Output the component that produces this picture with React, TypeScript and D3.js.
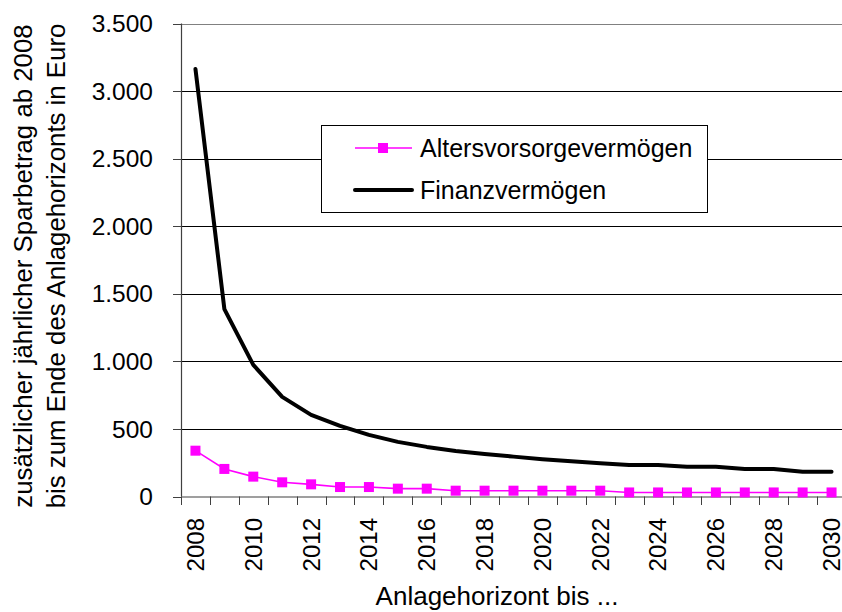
import React from "react";
import { scaleBand, scaleLinear, line } from "d3";

const years = ["2008", "2009", "2010", "2011", "2012", "2013", "2014", "2015", "2016", "2017", "2018", "2019",
  "2020", "2021", "2022", "2023", "2024", "2025", "2026", "2027", "2028", "2029", "2030"];
const altersvorsorge = [339, 204, 147, 105, 90, 70, 70, 58, 58, 43, 43, 43, 43, 43, 43, 30, 30, 30, 30, 30, 30, 30, 30];
const finanz = [3164, 1387, 974, 737, 604, 522, 456, 404, 367, 337, 315, 295, 276, 261, 246, 233, 233, 221, 221, 204, 204, 184, 184];
const yTicks = [0, 500, 1000, 1500, 2000, 2500, 3000, 3500];
const yTickLabels = ["0", "500", "1.000", "1.500", "2.000", "2.500", "3.000", "3.500"];
const xLabelYears = ["2008", "2010", "2012", "2014", "2016", "2018", "2020", "2022", "2024", "2026", "2028", "2030"];
const seriesNames = ["Altersvorsorgevermögen", "Finanzvermögen"];
const yTitle = ["zusätzlicher jährlicher Sparbetrag ab 2008", "bis zum Ende des Anlagehorizonts in Euro"];
const xTitle = "Anlagehorizont bis ...";

const FONT = "'Liberation Sans', Arial, sans-serif";
const PINK = "#ff00ff";

export default function App() {
  const left = 181;
  const right = 846;
  const top = 23.5;
  const bottom = 496.5;

  const x = scaleBand<string>().domain(years).range([left, right]).paddingInner(0).paddingOuter(0);
  const y = scaleLinear().domain([0, 3500]).range([bottom, top]);
  const cx = (d: string) => (x(d) as number) + x.bandwidth() / 2;
  const px = (v: number) => Math.round(v) + 0.5;

  const path = line<number>()
    .x((_, i) => cx(years[i]))
    .y(d => y(d));

  const legend = { x: 321, y: 125, w: 386, h: 87 };

  return (
    <svg width={842} height={612} style={{ position: "absolute", left: 0, top: 0 }} fontFamily={FONT}>
      <rect width={842} height={612} fill="#fff" />

      {/* gridlines */}
      {yTicks.filter(t => t > 0 && t < 3500).map(t => (
        <line key={t} x1={left} x2={right} y1={px(y(t))} y2={px(y(t))} stroke="#000" strokeWidth={1} />
      ))}
      <line x1={left} x2={right} y1={px(y(3500))} y2={px(y(3500))} stroke="#808080" strokeWidth={1} />

      {/* y axis */}
      <line x1={left + 0.5} x2={left + 0.5} y1={top} y2={bottom} stroke="#404040" strokeWidth={1.2} />
      {yTicks.map((t, i) => (
        <g key={t}>
          <line x1={173} x2={left} y1={px(y(t))} y2={px(y(t))} stroke="#404040" strokeWidth={1} />
          <text x={153} y={y(t)} dy="0.35em" textAnchor="end" fontSize={24.5} fill="#000">{yTickLabels[i]}</text>
        </g>
      ))}

      {/* x axis */}
      <line x1={left} x2={right} y1={bottom + 0.5} y2={bottom + 0.5} stroke="#404040" strokeWidth={1.2} />
      {years.map(d => (
        <line key={d} x1={px(x(d) as number)} x2={px(x(d) as number)} y1={bottom} y2={bottom + 8.5} stroke="#404040" strokeWidth={1} />
      ))}
      {xLabelYears.map(d => (
        <text key={d} transform={`translate(${cx(d)},518) rotate(-90)`} dy="0.35em" textAnchor="end" fontSize={24} fill="#000">{d}</text>
      ))}

      {/* series */}
      <path d={path(finanz) as string} fill="none" stroke="#000" strokeWidth={4} strokeLinejoin="round" strokeLinecap="round" />
      <path d={path(altersvorsorge) as string} fill="none" stroke={PINK} strokeWidth={1.6} />
      {altersvorsorge.map((v, i) => (
        <rect key={i} x={cx(years[i]) - 5} y={y(v) - 5} width={10} height={10} fill={PINK} />
      ))}

      {/* legend */}
      <rect x={legend.x + 0.5} y={legend.y + 0.5} width={legend.w} height={legend.h} fill="#fff" stroke="#000" strokeWidth={1} />
      <line x1={355} x2={412} y1={148} y2={148} stroke={PINK} strokeWidth={1.6} />
      <rect x={378} y={143} width={10} height={10} fill={PINK} />
      <text x={420} y={148} dy="0.35em" fontSize={25}>{seriesNames[0]}</text>
      <line x1={355} x2={412} y1={190} y2={190} stroke="#000" strokeWidth={4} strokeLinecap="round" />
      <text x={420} y={190} dy="0.35em" fontSize={25}>{seriesNames[1]}</text>

      {/* axis titles */}
      <text transform="translate(32,266) rotate(-90)" textAnchor="middle" fontSize={25.8}>{yTitle[0]}</text>
      <text transform="translate(65,266) rotate(-90)" textAnchor="middle" fontSize={25.8}>{yTitle[1]}</text>
      <text x={497} y={605} textAnchor="middle" fontSize={26}>{xTitle}</text>
    </svg>
  );
}
